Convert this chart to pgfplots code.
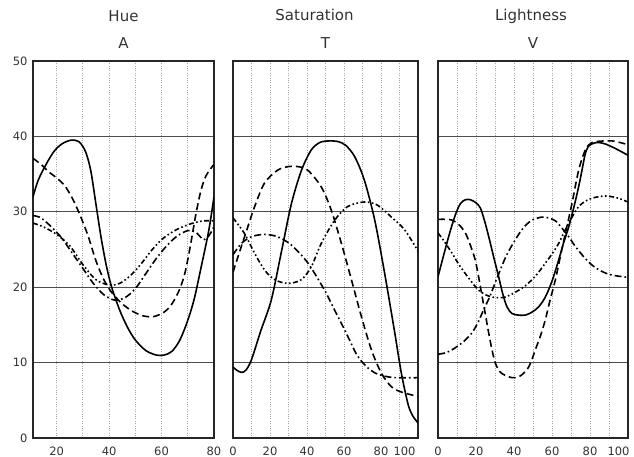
\documentclass[border=0pt]{standalone}
\usepackage{pgfplots}
\pgfplotsset{compat=1.18}
\usepackage{fontspec}
\setmainfont{DejaVu Sans}

\pgfplotsset{
  panel/.style={
    scale only axis, height=377pt,
    ymin=0, ymax=50, ytick={0,10,...,50},
    ymajorgrids, xminorgrids,
    major grid style={black!70, line width=0.8pt},
    minor grid style={gray!70, dotted, line width=0.7pt},
    major tick length=0pt, minor tick length=0pt,
    axis line style={black!85, line width=1.1pt},
    tick label style={font=\fontsize{11.5}{12}\selectfont, text=black!80},
    /pgf/number format/assume math mode=true,
    xticklabel style={yshift=-5pt},
    yticklabel style={xshift=-2pt},
    clip=true,
  },
  sol/.style={black, line width=1.6pt, smooth, tension=0.5},
  dsh/.style={black, line width=1.6pt, smooth, tension=0.5, dash pattern=on 7pt off 4pt},
  dd/.style={black, line width=1.6pt, smooth, tension=0.5, dash pattern=on 7pt off 3pt on 1.6pt off 3pt},
  ddd/.style={black, line width=1.6pt, smooth, tension=0.5, dash pattern=on 5pt off 2.5pt on 1.6pt off 2.5pt on 1.6pt off 2.5pt},
}

\begin{document}
\begin{tikzpicture}
\path[use as bounding box] (0,0) rectangle (634pt,457pt);

% ---------------- Hue ----------------
\begin{axis}[panel, name=p1, at={(33pt,19pt)}, anchor=south west, width=181pt,
  xmin=11, xmax=80, xtick={20,40,60,80}, minor xtick={20,30,...,70}]
\addplot[sol] coordinates {(11,32) (13,34.2) (16,36.3) (19,38) (22,39) (25.5,39.5) (28.5,39.3) (31,38) (33,35.5) (35,31) (37,26.5) (39,22.8) (41,20) (44,17) (47,14.7) (50,13) (54,11.6) (58,11) (61,11) (64,11.5) (67,13) (70,15.6) (72.5,18.5) (75,22.5) (78,27.5) (80,32)};
\addplot[dsh] coordinates {(11,37.1) (14,36.3) (17,35.3) (20,34.5) (23,33.5) (26,31.8) (29,29.5) (32,26.8) (35,23.5) (38,21) (41,19.3) (45,17.8) (49,16.8) (53,16.2) (57,16.1) (61,16.7) (64,17.8) (67,19.8) (69,22) (71,25.5) (73,29.5) (75,32.8) (77,34.8) (80,36.3)};
\addplot[dd] coordinates {(11,29.5) (14,29.2) (18,28) (22,26.5) (26,24.5) (30,22.5) (34,20.5) (38,19) (42,18.3) (46,18.6) (50,19.8) (54,21.8) (58,23.8) (62,25.5) (66,26.8) (70,27.5) (73,27.3) (76,26.3) (78,26.8) (80,28)};
\addplot[ddd] coordinates {(11,28.5) (15,28) (20,27) (25,25.5) (30,23) (35,21) (40,20.3) (44,20.5) (48,21.5) (52,23) (56,24.8) (60,26.3) (64,27.3) (68,28) (72,28.5) (76,28.8) (80,28.8)};
\end{axis}

% ---------------- Saturation ----------------
\begin{axis}[panel, name=p2, at={(233pt,19pt)}, anchor=south west, width=185pt,
  xmin=0, xmax=100, xtick={0,20,...,80}, minor xtick={10,20,...,90}, yticklabels={},
  extra x ticks={100}, extra x tick labels={100},
  extra x tick style={xticklabel style={anchor=north east, xshift=1pt}}]
\addplot[sol] coordinates {(0,9.4) (2,9) (4.5,8.7) (7,9) (10,10.4) (15,14.2) (20.7,18.3) (26,24.5) (31.5,31) (37,35.5) (42.3,38.2) (47,39.2) (52,39.4) (57,39.3) (61,38.8) (65.8,37.3) (71,34.2) (76.6,28.9) (82,21.8) (87.4,14) (91,8.6) (94.6,4.5) (97,3) (100,2)};
\addplot[dsh] coordinates {(0,22) (4.5,25.4) (8,28) (11.7,30.7) (17,33.8) (24,35.5) (30,36) (35,36) (40.5,35.5) (47.7,33.3) (53,30.3) (58.6,25.8) (64,21) (69.4,16.1) (74.8,11.7) (80.2,8.6) (85.6,6.8) (91,6.1) (100,5.5)};
\addplot[dd] coordinates {(0,24.3) (4.5,25.8) (10,26.7) (17,27) (24,26.7) (31.5,25.6) (40.5,23.2) (49.5,19.6) (54,17.4) (58.6,15.2) (63,13) (67,11) (72,9.5) (77,8.6) (82,8.2) (88,8) (100,8)};
\addplot[ddd] coordinates {(0,29.2) (6,27.2) (11.7,24.5) (17,22.3) (22.5,21) (29.7,20.5) (36.9,21) (42.3,22.7) (47.7,25.8) (55,28.9) (62,30.7) (71,31.3) (78,30.9) (85.6,29.3) (92.8,27.6) (100,24.8)};
\end{axis}

% ---------------- Lightness ----------------
\begin{axis}[panel, name=p3, at={(438pt,19pt)}, anchor=south west, width=190pt,
  xmin=0, xmax=100, xtick={0,20,...,80}, minor xtick={10,20,...,90}, yticklabels={},
  extra x ticks={100}, extra x tick labels={100},
  extra x tick style={xticklabel style={anchor=north east, xshift=5pt}}]
\addplot[sol] coordinates {(0,21.4) (5.6,26.7) (9,29.5) (11.8,31.1) (14.5,31.6) (17,31.6) (20,31.2) (22.3,30.5) (24.5,28.8) (26.7,26.7) (29.5,23.8) (31.9,21.4) (34,19.2) (36.3,17.4) (39,16.5) (42.5,16.3) (46,16.3) (49.5,16.7) (53,17.4) (56.5,18.7) (60,20.8) (63.5,23.6) (66,25.8) (68.8,28) (71.5,30.6) (74,33.3) (76,35.8) (77.5,37.7) (79,38.6) (81,39) (84,39.2) (88,39) (93.3,38.4) (100,37.5)};
\addplot[dsh] coordinates {(0,29) (4,29) (7.4,28.9) (11,28.3) (14.4,27.2) (17,25.6) (19.6,23.6) (21.5,21.2) (23.2,18.8) (25,16.3) (26.7,13.9) (28.5,11.6) (30.2,9.9) (32.5,8.8) (35.4,8.3) (39,8) (42.5,8.1) (45.5,8.7) (47.7,9.4) (50,10.8) (51.2,11.7) (54,13.6) (56.5,15.7) (59,18.3) (61.8,21) (64.5,24.2) (67,27.1) (70.5,31.1) (74,35.5) (77.5,38.2) (80,39) (82.8,39.3) (91.6,39.4) (100,38.9)};
\addplot[dd] coordinates {(0,11.1) (4,11.3) (7.4,11.7) (11,12.3) (14.4,13) (18,14) (21,15.3) (24,17) (27,18.6) (29.5,20.2) (32,21.8) (36,24.2) (40.7,26.3) (45,27.9) (49.5,28.9) (54.7,29.3) (58,29.2) (61.8,28.8) (65,27.9) (68.8,26.7) (72,25.5) (75.8,24.3) (79,23.4) (82.8,22.6) (87,22) (91.6,21.6) (100,21.3)};
\addplot[ddd] coordinates {(0,27.2) (3.5,26) (7.4,24.5) (11,23) (14.4,21.8) (18,20.6) (21.4,19.6) (25,19) (28.4,18.7) (32,18.6) (35.4,18.7) (39,19.1) (42.5,19.6) (46,20.2) (49.5,21) (53,22) (56.5,23.2) (60,24.4) (63.5,25.8) (66,27.1) (68.8,28.5) (71.5,29.7) (74,30.7) (77.5,31.4) (81,31.8) (84.5,32) (88,32.1) (91.5,32) (95,31.8) (100,31.3)};
\end{axis}

% ---------------- titles ----------------
\begin{scope}[every node/.style={font=\fontsize{15}{15}\selectfont, text=black!80, anchor=base, inner sep=0pt}]
\node at ([yshift=39pt]p1.north) {Hue};
\node at ([yshift=12pt]p1.north) {A};
\node at ([xshift=-11pt,yshift=40pt]p2.north) {Saturation};
\node at ([yshift=12.5pt]p2.north) {T};
\node at ([xshift=-2pt,yshift=40pt]p3.north) {Lightness};
\node at ([yshift=12.5pt]p3.north) {V};
\end{scope}
\end{tikzpicture}
\end{document}
